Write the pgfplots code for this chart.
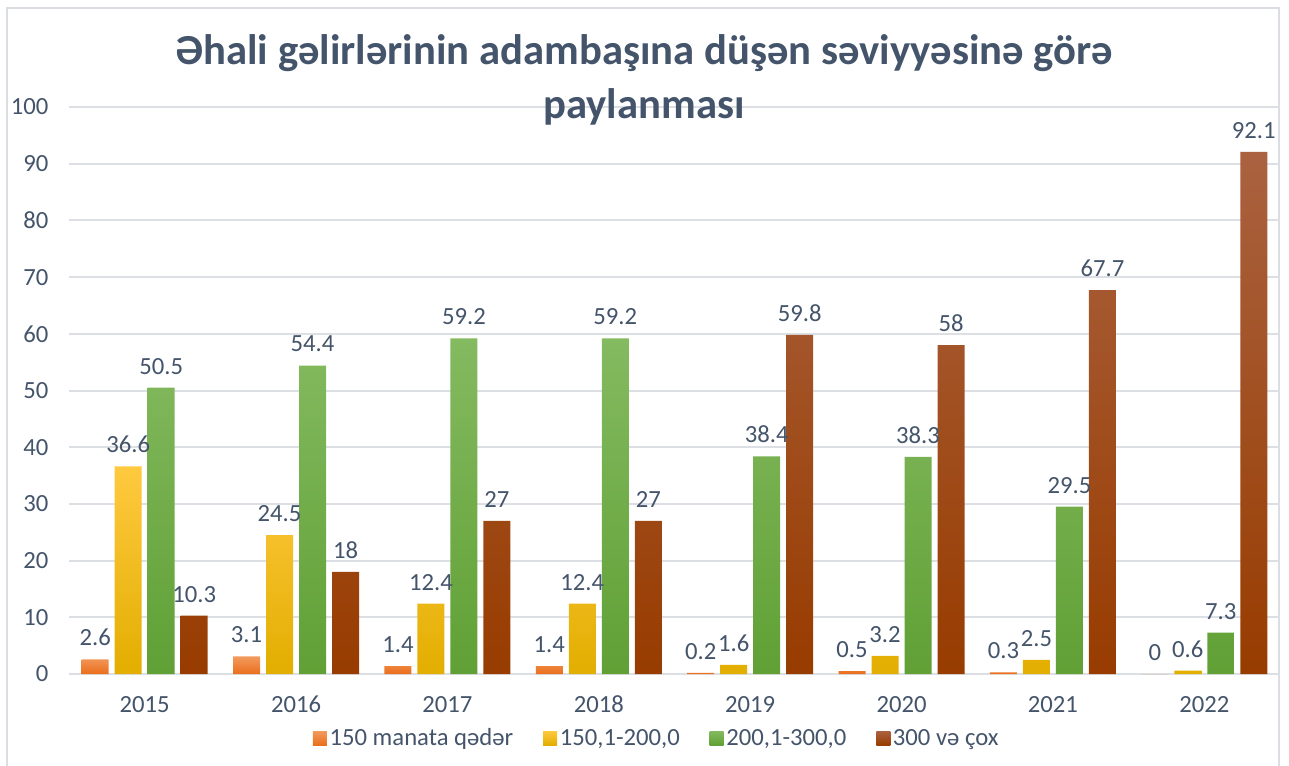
\documentclass[border=0pt]{standalone}
\usepackage{pgfplots}
\pgfplotsset{compat=1.18}
\usepackage{fontspec}
\setmainfont{Carlito}
\definecolor{txt}{HTML}{44546A}
\definecolor{gridc}{HTML}{DCE0E5}
\definecolor{bordc}{HTML}{DADEE3}
\definecolor{orT}{HTML}{F39A5E}
\definecolor{orB}{HTML}{EA6F1C}
\definecolor{yeT}{HTML}{FFC940}
\definecolor{yeB}{HTML}{E2AE00}
\definecolor{grT}{HTML}{84BA60}
\definecolor{grB}{HTML}{60A035}
\definecolor{brT}{HTML}{AA6240}
\definecolor{brB}{HTML}{983C00}
\pgfplotstableread{
x a b c d
0 2.6 36.6 50.5 10.3
1 3.1 24.5 54.4 18
2 1.4 12.4 59.2 27
3 1.4 12.4 59.2 27
4 0.2 1.6 38.4 59.8
5 0.5 3.2 38.3 58
6 0.3 2.5 29.5 67.7
7 0 0.6 7.3 92.1
}\datatable
\begin{document}
\begin{tikzpicture}[x=1pt,y=1pt]
\path[use as bounding box] (0,0) rectangle (966.75,573.75);
\draw[bordc, line width=1.5pt] (5.25,-5) -- (5.25,567.75) -- (959.25,567.75) -- (959.25,-5);
\begin{axis}[
  at={(51.75pt,68.25pt)}, anchor=south west,
  scale only axis, width=908.25pt, height=425.25pt,
  xmin=-0.5, xmax=7.5, ymin=0, ymax=100,
  clip=false,
  ybar=4.5pt, bar width=20.25pt,
  axis line style={draw=none}, major tick length=0pt,
  ymajorgrids, grid style={gridc, line width=1.5pt},
  xtick={0,...,7},
  xticklabels={2015,2016,2017,2018,2019,2020,2021,2022},
  ytick={0,10,...,100},
  tick label style={font=\fontsize{18.5}{21}\selectfont, text=txt},
  xticklabel style={yshift=-13pt},
  yticklabel style={xshift=-12pt},
  /pgf/number format/assume math mode=true,
  nodes near coords,
  nodes near coords style={font=\fontsize{18.5}{21}\selectfont, text=txt, yshift=6.5pt,
     /pgf/number format/fixed, /pgf/number format/precision=1},
  legend columns=4,
  legend style={at={(0.4856,-0.113)}, anchor=center, draw=none, fill=none,
     font=\fontsize{18.5}{21}\selectfont, text=txt,
     /tikz/every even column/.append style={column sep=20.5pt}},
  legend image code/.code={\path[#1, draw=none] (0pt,-5.25pt) rectangle (10.5pt,5.25pt);},
]
\addplot[draw=none, top color=orT, bottom color=orB] table[x=x,y=a]{\datatable};
\addplot[draw=none, top color=yeT, bottom color=yeB] table[x=x,y=b]{\datatable};
\addplot[draw=none, top color=grT, bottom color=grB] table[x=x,y=c]{\datatable};
\addplot[draw=none, top color=brT, bottom color=brB] table[x=x,y=d]{\datatable};
\legend{150 manata qədər,{150,1-200,0},{200,1-300,0},300 və çox}
\end{axis}
\node[font=\fontsize{32}{40.5}\selectfont\bfseries, text=txt, align=center] at (483,513.5)
  {Əhali gəlirlərinin adambaşına düşən səviyyəsinə görə\\paylanması};
\end{tikzpicture}
\end{document}
